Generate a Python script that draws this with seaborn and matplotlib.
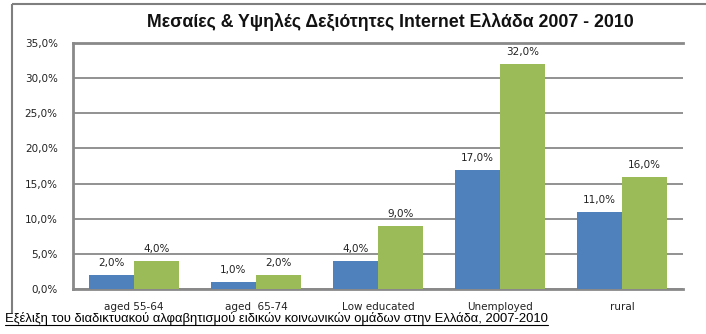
import matplotlib
matplotlib.use("Agg")
import matplotlib.pyplot as plt
from matplotlib.lines import Line2D
import seaborn as sns
import pandas as pd

categories = ["aged 55-64", "aged  65-74", "Low educated", "Unemployed", "rural"]
years = ["2007", "2010"]
values_2007 = [2.0, 1.0, 4.0, 17.0, 11.0]
values_2010 = [4.0, 2.0, 9.0, 32.0, 16.0]
yticks = [0, 5, 10, 15, 20, 25, 30, 35]
title = "Μεσαίες & Υψηλές Δεξιότητες Internet Ελλάδα 2007 - 2010"
caption = "Εξέλιξη του διαδικτυακού αλφαβητισμού ειδικών κοινωνικών ομάδων στην Ελλάδα, 2007-2010"

df = pd.DataFrame({
    "category": categories * 2,
    "year": [years[0]] * len(categories) + [years[1]] * len(categories),
    "value": values_2007 + values_2010,
})

sns.set_theme(style="white")
plt.rcParams["font.family"] = ["DejaVu Sans"]

fig = plt.figure(figsize=(7.06, 3.34), dpi=100)
ax = fig.add_axes([73 / 706, 45 / 334, 610 / 706, 246 / 334])

grey = "#898989"
sns.barplot(data=df, x="category", y="value", hue="year", order=categories,
            hue_order=years, palette=["#4F81BD", "#9BBB59"], width=0.74,
            saturation=1, ax=ax, legend=False, zorder=3, linewidth=0)

ax.set_ylim(0, 35)
ax.set_xlim(-0.5, len(categories) - 0.5)
ax.set_yticks(yticks)
ax.set_yticklabels([f"{v:.1f}%".replace(".", ",") for v in yticks], fontsize=7.5, color="#222222")
ax.set_xticks(range(len(categories)))
ax.set_xticklabels(categories, fontsize=7.5, color="#222222")
ax.tick_params(axis="x", length=0, pad=9)
ax.tick_params(axis="y", length=0, pad=11)
ax.set_xlabel("")
ax.set_ylabel("")
ax.yaxis.grid(True, color=grey, linewidth=1.3, zorder=0)
ax.set_axisbelow(True)
for side in ["left", "top", "bottom"]:
    ax.spines[side].set_visible(True)
    ax.spines[side].set_color(grey)
    ax.spines[side].set_linewidth(2)
ax.spines["right"].set_visible(False)

for cont in ax.containers:
    labels = [f"{b.get_height():.1f}%".replace(".", ",") for b in cont]
    ax.bar_label(cont, labels=labels, padding=5, fontsize=7.5, color="#222222")

fig.text(0.553, 0.935, title, ha="center", va="center", fontsize=12.8,
         fontweight="bold", family="Liberation Sans", color="#111111")

# outer chart frame
fig.add_artist(Line2D([12 / 706, 12 / 706], [1 - 313 / 334, 1 - 4 / 334], transform=fig.transFigure,
                      color="#7f7f7f", linewidth=1.5, solid_capstyle="butt"))
fig.add_artist(Line2D([12 / 706, 1.01], [1 - 4 / 334, 1 - 4 / 334], transform=fig.transFigure,
                      color="#7f7f7f", linewidth=1.5, solid_capstyle="butt"))

cap = fig.text(5 / 706, 1 - 322 / 334, caption, ha="left", va="baseline",
               fontsize=9.4, family="Liberation Sans", color="black")
fig.canvas.draw()
bb = cap.get_window_extent(fig.canvas.get_renderer())
uy = 1 - 324.5 / 334
fig.add_artist(Line2D([bb.x0 / fig.bbox.width, bb.x1 / fig.bbox.width], [uy, uy],
                      transform=fig.transFigure, color="black", linewidth=0.8))

fig.savefig("out.png", dpi=100)
